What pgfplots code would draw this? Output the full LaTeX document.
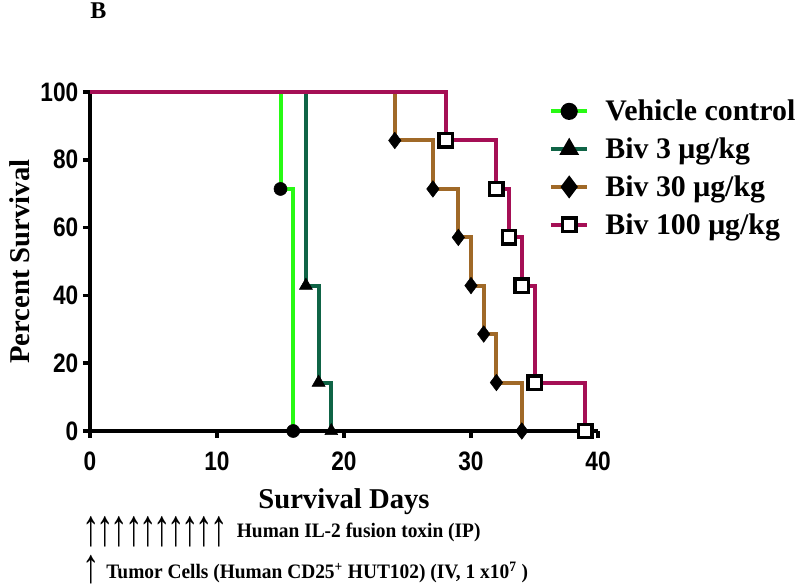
\documentclass[border=0pt]{standalone}
\usepackage{fontspec}
\setmainfont{Liberation Serif}
\newfontfamily\ticksfont[FakeStretch=0.85]{Liberation Sans}
\newfontfamily\condserif[FakeStretch=0.945]{Liberation Serif}
\usepackage{pgfplots}
\pgfplotsset{compat=1.18}
\definecolor{vehc}{RGB}{40,250,20}
\definecolor{bivthree}{RGB}{15,100,70}
\definecolor{bivthirty}{RGB}{160,105,40}
\definecolor{bivhund}{RGB}{165,15,85}
\newcommand{\uarr}{\raisebox{-6pt}{\scalebox{1.05}[1.55]{↑}}}
\newcommand{\uarrb}{\raisebox{-3.5pt}{\scalebox{1.05}[1.45]{↑}}}
\newcommand{\ua}{\uarr\kern-2.5pt}
\begin{document}
\begin{tikzpicture}
\path[use as bounding box] (-67.5pt,-114.75pt) rectangle (532.5pt,323.25pt);
\begin{axis}[
  scale only axis, width=381pt, height=254.25pt,
  xmin=0, xmax=40, ymin=0, ymax=100,
  axis lines*=left,
  axis line style={line width=2.8pt, black},
  xtick={0,10,20,30,40}, ytick={0,20,40,60,80,100},
  tick align=outside, major tick length=5.25pt,
  tick style={line width=2.8pt, black},
  ticklabel style={font=\ticksfont\bfseries\fontsize{20}{20}\selectfont},
  xticklabel style={yshift=-7pt},
  /pgf/number format/assume math mode=true,
  xlabel={Survival Days}, ylabel={Percent Survival},
  label style={font=\bfseries\fontsize{21.5}{22}\selectfont},
  xlabel style={at={(axis description cs:0.5,-0.207)}, anchor=center},
  ylabel style={at={(axis description cs:-0.138,0.5)}, anchor=center},
  clip=false,
  legend image code/.code={\draw[mark repeat=2,mark phase=2,#1] plot coordinates {(0cm,0cm) (0.48cm,0cm) (0.96cm,0cm)};},
  legend style={at={(rel axis cs:0.903,0.985)}, anchor=north west, draw=none, fill=none,
    font=\bfseries\fontsize{22.4}{23}\selectfont, row sep=7.3pt, column sep=10pt, inner sep=0pt,
    nodes={inner sep=2pt}},
  legend cell align=left,
]
\addplot[vehc, line width=3pt, const plot, forget plot] coordinates {(0,100)(15,71.4)(16,0)};
\addplot[bivthree, line width=3pt, const plot, forget plot] coordinates {(0,100)(17,42.9)(18,14.3)(19,0)};
\addplot[bivthirty, line width=3pt, const plot, forget plot] coordinates {(0,100)(24,85.7)(27,71.4)(29,57.1)(30,42.9)(31,28.6)(32,14.3)(34,0)};
\addplot[bivhund, line width=3pt, const plot, forget plot] coordinates {(0,100)(28,85.7)(32,71.4)(33,57.1)(34,42.9)(35,14.3)(39,0)};
\addplot[only marks, mark=*, mark size=4.9pt, black, forget plot] coordinates {(15,71.4)(16,0)};
\addplot[only marks, mark=triangle*, mark size=5.6pt, black, forget plot] coordinates {(17,42.9)(18,14.3)(19,0)};
\addplot[only marks, mark=diamond*, mark size=6.2pt, black, forget plot] coordinates {(24,85.7)(27,71.4)(29,57.1)(30,42.9)(31,28.6)(32,14.3)(34,0)};
\addplot[only marks, mark=square*, mark size=5pt, mark options={draw=black, fill=white, line width=2.5pt}, forget plot] coordinates {(28,85.7)(32,71.4)(33,57.1)(34,42.9)(35,14.3)(39,0)};
\addlegendimage{vehc, line width=3pt, mark=*, mark size=4.9pt, mark options={draw=black, fill=black}}
\addlegendentry{Vehicle control}
\addlegendimage{bivthree, line width=3pt, mark=triangle*, mark size=5.6pt, mark options={draw=black, fill=black}}
\addlegendentry{Biv 3 μg/kg}
\addlegendimage{bivthirty, line width=3pt, mark=diamond*, mark size=6.2pt, mark options={draw=black, fill=black}}
\addlegendentry{Biv 30 μg/kg}
\addlegendimage{bivhund, line width=3pt, mark=square*, mark size=5pt, mark options={draw=black, fill=white, line width=2.5pt}}
\addlegendentry{Biv 100 μg/kg}
\node[anchor=base west, font=\bfseries\fontsize{18}{18}\selectfont, inner sep=0pt] at (axis description cs:0.0,1.218) {B};
\node[anchor=base west, font=\condserif\bfseries\fontsize{15.4}{16}\selectfont, inner sep=0pt] at (axis description cs:-0.015,-0.313)
  {{\rmfamily\fontsize{25}{25}\selectfont \ua\ua\ua\ua\ua\ua\ua\ua\ua\uarr}\hspace{0.45em}Human IL-2 fusion toxin (IP)};
\node[anchor=base west, font=\condserif\bfseries\fontsize{15.4}{16}\selectfont, inner sep=0pt] at (axis description cs:-0.015,-0.434)
  {{\rmfamily\fontsize{25}{25}\selectfont \uarrb}\hspace{0.3em}Tumor Cells (Human CD25\textsuperscript{+} HUT102) (IV, 1 x10\textsuperscript{7} )};
\end{axis}
\end{tikzpicture}
\end{document}
